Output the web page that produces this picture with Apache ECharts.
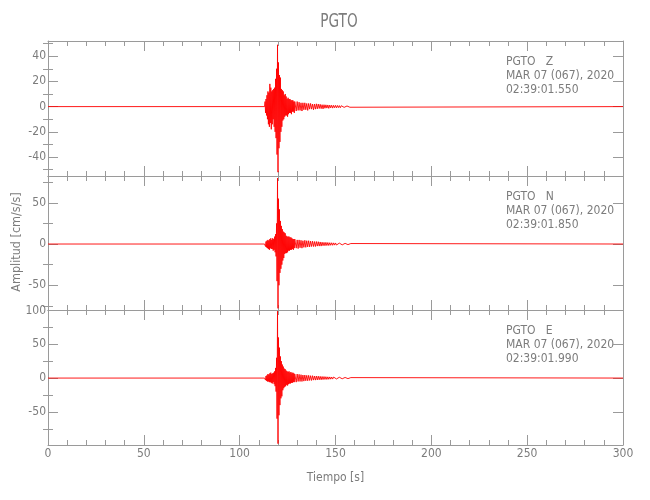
<!DOCTYPE html>
<html><head><meta charset="utf-8">
<script src="https://cdn.jsdelivr.net/npm/echarts@6/dist/echarts.min.js"></script>
<style>html,body{margin:0;padding:0;background:#fff}#c{width:650px;height:500px}</style>
</head><body><div id="c"></div>
<script>
// ---- data ----
const stationName = 'PGTO';
const components = ['Z', 'N', 'E'];
const dateLabel = 'MAR 07 (067), 2020';
const startTimes = ['02:39:01.550', '02:39:01.850', '02:39:01.990'];
const xTickLabels = [0, 50, 100, 150, 200, 250, 300];
const yRanges = [[-55, 52], [-80, 82.5], [-99, 100.7]];
const yMajorTicks = [[-40, -20, 0, 20, 40], [-50, 0, 50], [-50, 0, 50, 100]];
const yMinorTicks = [[-50, -30, -10, 10, 30, 50], [-75, -25, 25, 75], [-75, -25, 25, 75]];

const seg1Start = 113.0, seg1Step = 0.25;
const seg2Start = 129.0, seg2Step = 0.5;

const zSeg1 = [0, 4, -5, 6, -7, 9, -10, 12, -14, 11, -16, 18, -13, 15, -18, 12, -14, 13, -10, 14, -16,
  15, -20, 22, -25, 30, -38, 49, -52, 35, -33, 25, -28, 23, -20, 14, -16, 13, -11, 12, -10,
  9, -8, 10, -7, 8, -7, 6, -8, 7, -6, 6, -5, 6, -5, 5, -6, 5, -4, 5, -4, 4, -5, 4];
const zSeg2 = [4, -3.5, 4, -3, 3.5, -3, 3, -3.5, 3, -2.5, 3, -2.5, 2.5, -3, 2.5, -2, 2.5, -2, 2, -2.5,
  2, -2, 2.2, -1.8, 2, -1.5, 1.8, -1.6, 1.5, -1.8, 1.5, -1.3, 1.4, -1.2, 1.3, -1.4, 1.2, -1, 1.1, -1.2,
  1, -0.9, 1, -1, 0.9, -0.8, 0.8, -0.9, 0.7, -0.7, 0.7, -0.6, 0.6, -0.7, 0.5, -0.6, 0.5, -0.5, 0.4, -0.4];

const nSeg1 = [0, 2, -3, 3, -4, 4, -5, 5, -6, 4, -7, 6, -5, 7, -6, 5, -6, 7, -8, 6, -7,
  9, -10, 12, -15, 25, -45, 80, -78, 55, -50, 42, -35, 28, -30, 22, -25, 18, -20, 15, -17,
  14, -12, 13, -11, 10, -11, 9, -10, 9, -8, 9, -8, 8, -7, 8, -7, 7, -6, 6, -7, 6, -5, 6];
const nSeg2 = [6, -5, 5, -5.5, 5, -4.5, 4.5, -5, 4, -4, 4.5, -4, 4, -3.5, 4, -3.5, 3.5, -3, 3.5, -3,
  3, -3, 3, -2.5, 2.8, -2.5, 2.5, -2.5, 2.2, -2, 2, -2, 2, -1.8, 1.8, -1.8, 1.6, -1.5, 1.5, -1.5,
  1.4, -1.3, 1.3, -1.2, 1.2, -1.2, 1.1, -1, 1, -1, 0.9, -0.9, 0.8, -0.8, 0.8, -0.7, 0.7, -0.6, 0.6, -0.6];

const eSeg1 = [0, 2, -3, 3, -4, 4, -5, 6, -5, 5, -6, 7, -6, 8, -7, 6, -8, 7, -6, 8, -9,
  10, -12, 15, -20, 30, -60, 99, -97, 60, -55, 45, -40, 32, -30, 25, -27, 20, -18, 17, -15,
  14, -13, 13, -12, 11, -10, 10, -11, 9, -9, 10, -8, 8, -8, 9, -7, 7, -7, 8, -6, 7, -6, 6];
const eSeg2 = [6, -6, 6, -5, 5.5, -5, 5, -5, 4.5, -4.5, 4.5, -4, 4, -4, 4, -3.5, 3.5, -3.5, 3.5, -3,
  3, -3, 3, -2.8, 2.8, -2.5, 2.5, -2.5, 2.3, -2.2, 2.2, -2, 2, -2, 1.8, -1.8, 1.7, -1.6, 1.6, -1.5,
  1.5, -1.4, 1.4, -1.3, 1.3, -1.2, 1.2, -1.1, 1.1, -1, 1, -0.9, 0.9, -0.9, 0.8, -0.8, 0.7, -0.7, 0.7, -0.6];

const traces = [[zSeg1, zSeg2], [nSeg1, nSeg2], [eSeg1, eSeg2]];

// ---- build ----
function buildTrace(s1, s2) {
  const pts = [[0, 0]];
  s1.forEach((v, i) => pts.push([seg1Start + i * seg1Step, v]));
  s2.forEach((v, i) => pts.push([seg2Start + i * seg2Step, v]));
  pts.push([300, 0]);
  return pts;
}

const FONT = "'DejaVu Sans Condensed', 'Liberation Sans Narrow', sans-serif";
const AX = '#9a9a9a';
const TXT = '#7c7c7c';
const gridTops = [41, 176, 310];
const gridHeights = [135, 134, 135];

const grid = gridTops.map((t, i) => ({ left: 48, right: 27, top: t, height: gridHeights[i] }));
const xAxis = [], yAxis = [], series = [], graphic = [];

gridTops.forEach((top, g) => {
  ['bottom', 'top'].forEach(pos => {
    const showLbl = (g === 2 && pos === 'bottom');
    xAxis.push({
      gridIndex: g, type: 'value', position: pos, min: 0, max: 300, interval: 50,
      axisLine: { show: true, onZero: false, lineStyle: { color: AX, width: 1 } },
      axisTick: { show: true, inside: true, length: 10, lineStyle: { color: AX } },
      minorTick: { show: true, splitNumber: 5, length: 5, lineStyle: { color: AX } },
      splitLine: { show: false }, minorSplitLine: { show: false },
      axisLabel: { show: showLbl, color: TXT, fontFamily: FONT, fontSize: 12, margin: 3,
        customValues: xTickLabels },
      name: showLbl ? 'Tiempo [s]' : '', nameLocation: 'middle', nameGap: 27,
      nameTextStyle: { color: TXT, fontFamily: FONT, fontSize: 12 }
    });
  });
  ['left', 'right'].forEach(pos => {
    yAxis.push({
      gridIndex: g, type: 'value', position: pos, min: yRanges[g][0], max: yRanges[g][1],
      axisLine: { show: true, onZero: false, lineStyle: { color: AX } },
      axisTick: { show: true, inside: true, length: 10, customValues: yMajorTicks[g], lineStyle: { color: AX } },
      axisLabel: { show: pos === 'left', customValues: yMajorTicks[g], color: TXT, fontFamily: FONT, fontSize: 12, margin: 2 },
      splitLine: { show: false }
    });
    yAxis.push({
      gridIndex: g, type: 'value', position: pos, min: yRanges[g][0], max: yRanges[g][1],
      axisLine: { show: false },
      axisTick: { show: true, inside: true, length: 5, customValues: yMinorTicks[g], lineStyle: { color: AX } },
      axisLabel: { show: false, customValues: yMinorTicks[g] },
      splitLine: { show: false }
    });
  });
  series.push({
    type: 'line', xAxisIndex: 2 * g, yAxisIndex: 4 * g,
    data: buildTrace(traces[g][0], traces[g][1]),
    showSymbol: false, symbol: 'none', sampling: null, animation: false,
    lineStyle: { color: '#ff0000', width: 1, opacity: 0.9 }
  });
  const lines = [stationName + '   ' + components[g], dateLabel, startTimes[g]];
  lines.forEach((s, k) => {
    graphic.push({ type: 'text', left: 506, top: top + 15 + k * 13.8,
      style: { text: s, fill: TXT, font: '12px ' + FONT } });
  });
});

graphic.push({ type: 'text', x: 339, y: 22, scaleX: 0.8,
  style: { text: stationName, fill: TXT, font: '19px ' + FONT, textAlign: 'center', textVerticalAlign: 'middle' } });
graphic.push({ type: 'text', x: 17, y: 242, rotation: Math.PI / 2,
  style: { text: 'Amplitud [cm/s/s]', fill: TXT, font: '12.5px ' + FONT, textAlign: 'center', textVerticalAlign: 'middle' } });

const chart = echarts.init(document.getElementById('c'), null, { renderer: 'canvas' });
chart.setOption({ animation: false, backgroundColor: '#fff', grid, xAxis, yAxis, series, graphic });
</script></body></html>
